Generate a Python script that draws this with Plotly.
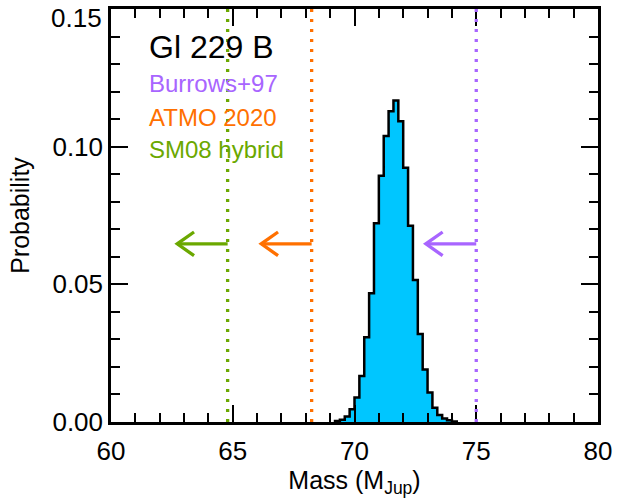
import plotly.graph_objects as go

# Posterior mass distribution of Gl 229 B (0.2 M_Jup bins)
bin_left_edges = [69.2, 69.4, 69.6, 69.8, 70.0, 70.2, 70.4, 70.6, 70.8, 71.0,
                  71.2, 71.4, 71.6, 71.8, 72.0, 72.2, 72.4, 72.6, 72.8, 73.0,
                  73.2, 73.4, 73.6, 73.8, 74.0]
bin_width = 0.2
probability = [0.0004, 0.0008, 0.0020, 0.0046, 0.0089, 0.0167, 0.0308, 0.0468,
               0.0722, 0.0894, 0.1039, 0.1129, 0.1168, 0.1092, 0.0923, 0.0713,
               0.0516, 0.0320, 0.0191, 0.0107, 0.0052, 0.0025, 0.0013, 0.0006,
               0.0002]

# Maximum masses allowed by each evolutionary model
model_names = ["Burrows+97", "ATMO 2020", "SM08 hybrid"]
model_mass_limits = [75.0, 68.24, 64.79]
model_colors = ["#A865FF", "#FF7000", "#6BA800"]

object_name = "Gl 229 B"

x_ticks = [60, 65, 70, 75, 80]
y_ticks = [0.00, 0.05, 0.10, 0.15]

# arrow geometry (data units)
arrow_y = 0.0647
arrow_len = 2.07
head_dx = 0.69
head_dy = 0.0043

FONT = "Liberation Sans, Arial, Helvetica, sans-serif"
TICK_SIZE = 26

fig = go.Figure()

# histogram drawn as a closed step outline
hx = [bin_left_edges[0]]
hy = [0.0]
for e, p in zip(bin_left_edges, probability):
    hx += [e, e + bin_width]
    hy += [p, p]
hx.append(bin_left_edges[-1] + bin_width)
hy.append(0.0)
fig.add_trace(go.Scatter(
    x=hx, y=hy, mode="lines", fill="tozeroy", fillcolor="#00C6FF",
    line=dict(color="black", width=2.5), hoverinfo="skip", showlegend=False))

# dotted upper-limit lines
for m, c in zip(model_mass_limits, model_colors):
    fig.add_shape(type="line", xref="x", yref="paper", x0=m, x1=m, y0=0, y1=1,
                  line=dict(color=c, width=3.3, dash="3px,7px"), layer="above")

# leftward arrows marking upper limits
for m, c in zip(model_mass_limits, model_colors):
    tip = m - arrow_len
    ax = [m, tip, None, tip + head_dx, tip, tip + head_dx]
    ay = [arrow_y, arrow_y, None, arrow_y + head_dy, arrow_y, arrow_y - head_dy]
    fig.add_trace(go.Scatter(x=ax, y=ay, mode="lines",
                             line=dict(color=c, width=3.3),
                             hoverinfo="skip", showlegend=False))

# labels
fig.add_annotation(x=0.074, y=0.9075, xref="paper", yref="paper",
                   xanchor="left", yanchor="middle", showarrow=False,
                   text=object_name, font=dict(size=32, color="black", family=FONT))
label_y = [0.82, 0.738, 0.659]
for name, c, yy in zip(model_names, model_colors, label_y):
    fig.add_annotation(x=0.074, y=yy, xref="paper", yref="paper",
                       xanchor="left", yanchor="middle", showarrow=False,
                       text=name, font=dict(size=24, color=c, family=FONT))

# the top y label sits just below the frame edge so it stays on the page
top_tick = y_ticks[-1]
fig.add_annotation(x=0, y=top_tick, xref="paper", yref="y",
                   xanchor="right", yanchor="top", xshift=-7, yshift=8,
                   showarrow=False, text=f"{top_tick:.2f}",
                   font=dict(size=TICK_SIZE, color="black", family=FONT))

axis_common = dict(
    showline=True, linecolor="black", linewidth=2.5, mirror="allticks",
    ticks="inside", tickcolor="black", tickwidth=2, ticklen=17,
    showgrid=False, zeroline=False,
    tickfont=dict(size=TICK_SIZE, color="black", family=FONT),
)

fig.update_xaxes(range=[60, 80], tickmode="array", tickvals=x_ticks,
                 ticktext=[str(v) for v in x_ticks], ticklabelstandoff=4,
                 minor=dict(ticks="inside", dtick=1, tick0=60, ticklen=9,
                            tickwidth=2, tickcolor="black", showgrid=False),
                 title=dict(text="Mass (M<sub>Jup</sub>)", standoff=4,
                            font=dict(size=25, color="black", family=FONT)),
                 **axis_common)
fig.update_yaxes(range=[0, 0.15], tickmode="array", tickvals=y_ticks,
                 ticktext=[f"{v:.2f}" for v in y_ticks[:-1]] + [""],
                 minor=dict(ticks="inside", dtick=0.01, tick0=0, ticklen=9,
                            tickwidth=2, tickcolor="black", showgrid=False),
                 title=dict(text="Probability", standoff=16,
                            font=dict(size=25, color="black", family=FONT)),
                 **axis_common)

fig.update_layout(
    width=618, height=499,
    margin=dict(l=111, r=17, t=6, b=77),
    plot_bgcolor="white", paper_bgcolor="white",
    font=dict(family=FONT, color="black"),
    showlegend=False,
)

fig.write_html("out.html")
